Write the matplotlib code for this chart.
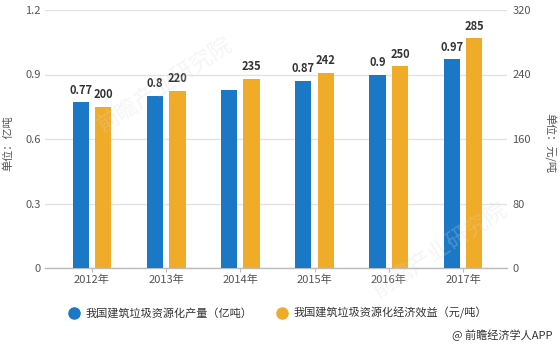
import numpy as np
import matplotlib
matplotlib.use("Agg")
import matplotlib.pyplot as plt
from matplotlib.lines import Line2D

plt.rcParams['font.family'] = ['Noto Sans CJK SC', 'DejaVu Sans']

years = ['2012年', '2013年', '2014年', '2015年', '2016年', '2017年']
output_vals = [0.77, 0.80, 0.83, 0.87, 0.90, 0.97]
output_labels = ['0.77', '0.8', '', '0.87', '0.9', '0.97']
benefit_vals = [200, 220, 235, 242, 250, 285]
benefit_labels = ['200', '220', '235', '242', '250', '285']
left_ticks = [0, 0.3, 0.6, 0.9, 1.2]
left_tick_labels = ['0', '0.3', '0.6', '0.9', '1.2']
right_ticks = [0, 80, 160, 240, 320]
series_names = ['我国建筑垃圾资源化产量（亿吨）', '我国建筑垃圾资源化经济效益（元/吨）']

BLUE = '#1a78c6'
YELLOW = '#f0ac28'
TXT = '#555555'

W, H = 560, 345
fig = plt.figure(figsize=(W / 100, H / 100), dpi=100)
ax = fig.add_axes([45 / W, 77 / H, 462 / W, 258 / H])
ax2 = ax.twinx()

x = np.arange(len(years))
bw = 0.22
off = 0.152

ax.set_axisbelow(True)
b1 = ax.bar(x - off, output_vals, bw, color=BLUE, zorder=3)
b2 = ax2.bar(x + off, benefit_vals, bw, color=YELLOW, zorder=3)

ax.set_xlim(-0.633, 5.593)
ax.set_ylim(0, 1.2)
ax2.set_ylim(0, 320)

ax.set_yticks(left_ticks)
ax.set_yticklabels(left_tick_labels)
ax2.set_yticks(right_ticks)
ax2.set_yticklabels([str(v) for v in right_ticks])
ax.set_xticks(x)
ax.set_xticklabels(years)

ax.grid(axis='y', color='#e3e3e3', linewidth=1, zorder=0)
ax.grid(axis='x', visible=False)
for a in (ax, ax2):
    for s in ('top', 'left', 'right', 'bottom'):
        a.spines[s].set_visible(False)
ax.spines['bottom'].set_visible(True)
ax.spines['bottom'].set_color('#bbbbbb')
ax.spines['bottom'].set_linewidth(1)

ax.tick_params(axis='y', length=0, pad=3, labelsize=8, labelcolor=TXT)
ax2.tick_params(axis='y', length=0, pad=4, labelsize=8, labelcolor=TXT)
ax.tick_params(axis='x', length=3, width=0.8, color='#bbbbbb', pad=2, labelsize=8, labelcolor=TXT)

for rect, lab in zip(b1, output_labels):
    if lab:
        ax.annotate(lab, (rect.get_x() + rect.get_width() / 2, rect.get_height()),
                    xytext=(0, 4), textcoords='offset points', ha='center', va='bottom',
                    fontsize=8, fontweight='bold', color='#333333', zorder=5)
for rect, lab in zip(b2, benefit_labels):
    ax2.annotate(lab, (rect.get_x() + rect.get_width() / 2, rect.get_height()),
                 xytext=(0, 4), textcoords='offset points', ha='center', va='bottom',
                 fontsize=8, fontweight='bold', color='#333333', zorder=5)

fig.text(8 / W, 1 - 143 / H, '单位：亿吨', rotation=90, ha='center', va='center',
         fontsize=8, color=TXT)
fig.text(549 / W, 1 - 143 / H, '单位：元/吨', rotation=-90, ha='center', va='center',
         fontsize=8, color=TXT)

handles = [Line2D([], [], marker='o', linestyle='none', markersize=8, color=BLUE),
           Line2D([], [], marker='o', linestyle='none', markersize=8, color=YELLOW)]
leg = fig.legend(handles, series_names, loc='center', bbox_to_anchor=(278 / W, 1 - 313 / H),
                 ncol=2, frameon=False, fontsize=8, handlelength=1, handletextpad=0.5,
                 columnspacing=2.2, borderaxespad=0)
for t in leg.get_texts():
    t.set_color('#333333')

fig.text(552 / W, 1 - 335 / H, '@ 前瞻经济学人APP', ha='right', va='center',
         fontsize=8, color='#333333')

# faint watermark
for (cx, cy) in [(165, 85), (440, 250)]:
    fig.text(cx / W, 1 - cy / H, '前瞻产业研究院', rotation=33, ha='center', va='center',
             fontsize=16, color='#d8d8d8', alpha=0.25, zorder=10)

fig.savefig('out.png', dpi=100)
